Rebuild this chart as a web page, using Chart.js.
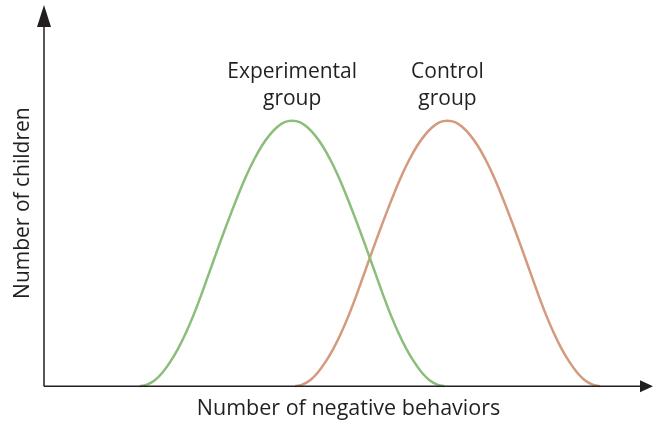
<!DOCTYPE html>
<html>
<head>
<meta charset="utf-8">
<script src="https://cdn.jsdelivr.net/npm/chart.js@4/dist/chart.umd.min.js"></script>
<style>
  html, body { margin: 0; padding: 0; background: #fff; }
  #wrap { width: 653px; height: 426px; }
</style>
</head>
<body>
<div id="wrap"><canvas id="myChart"></canvas></div>
<script>
// ***** datos *****
const xTitle = "Number of negative behaviors"
const yTitle = "Number of children"
const seriesNames = ["Experimental group", "Control group"]
const peakLabels = [["Experimental", "group"], ["Control", "group"]]

// valores (x: conductas, y: cantidad de niños)
const experimentalX = [6.3, 6.8, 7.3, 7.8, 8.3, 8.8, 9.3, 9.8, 10.3, 10.8, 11.3, 11.8, 12.3, 12.8, 13.3, 13.8, 14.3, 14.8, 15.3, 15.8,
  16.3, 16.8, 17.3, 17.8, 18.3, 18.8, 19.3, 19.8, 20.3, 20.8, 21.3, 21.8, 22.3, 22.8, 23.3, 23.8, 24.3, 24.8, 25.3, 25.8, 26.3]
const experimentalY = [0, 0.5, 1.7, 3.8, 6.7, 10.2, 14.4, 19.2, 24.6, 30.4, 36.2, 41.9, 47.4, 52.7, 57.6, 61.9, 65.6, 68.5, 70.7, 72.1,
  72.5, 72.1, 70.7, 68.5, 65.6, 61.9, 57.6, 52.7, 47.4, 41.9, 36.2, 30.4, 24.6, 19.2, 14.4, 10.2, 6.7, 3.8, 1.7, 0.5, 0]
const controlX = [16.5, 17, 17.5, 18, 18.5, 19, 19.5, 20, 20.5, 21, 21.5, 22, 22.5, 23, 23.5, 24, 24.5, 25, 25.5, 26,
  26.5, 27, 27.5, 28, 28.5, 29, 29.5, 30, 30.5, 31, 31.5, 32, 32.5, 33, 33.5, 34, 34.5, 35, 35.5, 36, 36.5]
const controlY = [0, 0.5, 1.7, 3.8, 6.7, 10.2, 14.4, 19.2, 24.6, 30.4, 36.2, 41.9, 47.4, 52.7, 57.6, 61.9, 65.6, 68.5, 70.7, 72.1,
  72.5, 72.1, 70.7, 68.5, 65.6, 61.9, 57.6, 52.7, 47.4, 41.9, 36.2, 30.4, 24.6, 19.2, 14.4, 10.2, 6.7, 3.8, 1.7, 0.5, 0]

const greenColor = "#8bbd7b"
const brownColor = "#d39a7d"
const inkColor = "#231f20"
const fontFamily = "'Open Sans', 'DejaVu Sans', sans-serif"

const toPoints = (xs, ys) => xs.map((x, i) => ({ x: x, y: ys[i] }))

// ***** ejes con flechas y etiquetas de los picos *****
const axesPlugin = {
  id: "axesArrows",
  afterDatasetsDraw(chart) {
    const { ctx, chartArea } = chart
    const left = chartArea.left
    const right = chartArea.right
    const bottom = chartArea.bottom
    ctx.save()
    ctx.strokeStyle = inkColor
    ctx.fillStyle = inkColor
    ctx.lineWidth = 1.5
    ctx.beginPath()
    ctx.moveTo(left, bottom)
    ctx.lineTo(left, 12)
    ctx.moveTo(left, bottom)
    ctx.lineTo(right - 7, bottom)
    ctx.stroke()
    // flecha vertical
    ctx.beginPath()
    ctx.moveTo(left, 5)
    ctx.lineTo(left - 7, 27)
    ctx.lineTo(left + 7, 27)
    ctx.closePath()
    ctx.fill()
    // flecha horizontal
    ctx.beginPath()
    ctx.moveTo(right, bottom)
    ctx.lineTo(right - 13, bottom - 6)
    ctx.lineTo(right - 13, bottom + 6)
    ctx.closePath()
    ctx.fill()

    // etiquetas sobre cada pico
    ctx.font = "21px " + fontFamily
    ctx.textAlign = "center"
    ctx.textBaseline = "alphabetic"
    chart.data.datasets.forEach((ds, i) => {
      const peak = ds.data.reduce((a, b) => (b.y > a.y ? b : a))
      const px = chart.scales.x.getPixelForValue(peak.x)
      ctx.fillText(peakLabels[i][0], px, 78)
      ctx.fillText(peakLabels[i][1], px, 105)
    })
    ctx.restore()
  }
}

// ***** grafico *****
const ctx = document.getElementById("myChart").getContext("2d")
const myChart = new Chart(ctx, {
  type: "line",
  data: {
    datasets: [{
      label: seriesNames[0],
      data: toPoints(experimentalX, experimentalY),
      borderColor: greenColor,
      borderWidth: 2.5,
      pointRadius: 0,
      tension: 0.4,
      clip: false
    }, {
      label: seriesNames[1],
      data: toPoints(controlX, controlY),
      borderColor: brownColor,
      borderWidth: 2.5,
      pointRadius: 0,
      tension: 0.4,
      clip: false
    }]
  },
  options: {
    responsive: true,
    maintainAspectRatio: false,
    animation: false,
    layout: { padding: { left: 0, right: 0, top: 20, bottom: 0 } },
    plugins: { legend: { display: false }, tooltip: { enabled: false } },
    scales: {
      x: {
        type: "linear",
        min: 0,
        max: 40,
        grid: { display: false, drawTicks: false },
        border: { display: false },
        ticks: { display: false },
        title: {
          display: true,
          text: xTitle,
          color: inkColor,
          font: { family: fontFamily, size: 21.5 },
          padding: { top: 9.5, bottom: 4.5 }
        }
      },
      y: {
        min: 0,
        max: 100,
        grid: { display: false, drawTicks: false },
        border: { display: false },
        ticks: { display: false },
        title: {
          display: true,
          text: yTitle,
          color: inkColor,
          font: { family: fontFamily, size: 21 },
          padding: { top: 10.5, bottom: 8.3 }
        }
      }
    }
  },
  plugins: [axesPlugin]
})
</script>
</body>
</html>
